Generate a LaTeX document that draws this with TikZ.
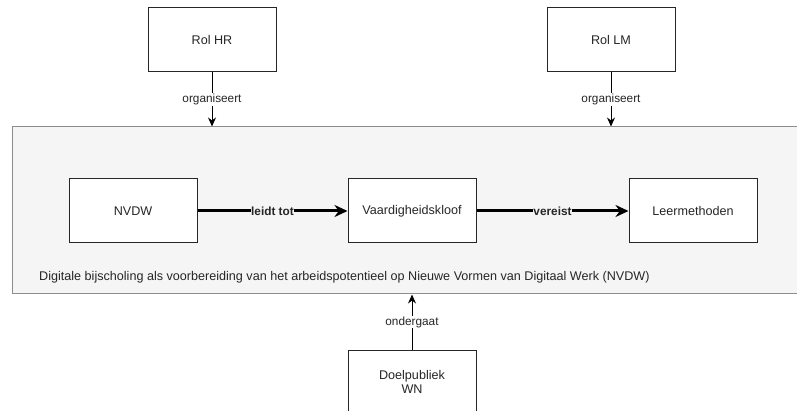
\documentclass[tikz,border=0pt]{standalone}
\usepackage{fontspec}
\setmainfont{Liberation Sans}
\usetikzlibrary{arrows.meta}
\definecolor{framegray}{HTML}{F5F5F5}
\definecolor{linegray}{HTML}{8C8C8C}
\definecolor{textgray}{HTML}{262626}
\tikzset{
  box/.style={draw=black!85, fill=white, line width=1pt, minimum width=128pt,
    minimum height=64pt, inner sep=0pt, align=center, font=\fontsize{12.6}{14.5}\selectfont, text=textgray},
  rel/.style={-{Stealth[length=9pt,width=8pt]}, line width=1pt, black},
  strongrel/.style={-{Stealth[length=13pt,width=12pt]}, line width=3pt, black},
  lbl/.style={fill=white, inner sep=1pt, font=\fontsize{11.8}{13}\selectfont, text=textgray},
  boldlbl/.style={fill=framegray, inner sep=0.5pt, font=\fontsize{11.8}{13}\selectfont\bfseries, text=textgray}
}
\begin{document}
\begin{tikzpicture}[x=1pt, y=-1pt]
            \useasboundingbox[fill=white] (0, 0) rectangle (797, 411);

            \node[draw=linegray, fill=framegray, line width=1pt, minimum width=798pt,
              minimum height=167pt, inner sep=0pt] (context) at (411, 210.5) {};
            \node[anchor=base west, inner sep=0pt, font=\fontsize{12.6}{14.5}\selectfont, text=textgray] (caption) at (39, 281)
              {Digitale bijscholing als voorbereiding van het arbeidspotentieel op Nieuwe Vormen van Digitaal Werk (NVDW)};

            \node[box] (rolhr) at (212, 40) {Rol HR};
            \node[box] (rollm) at (611, 40) {Rol LM};
            \node[box] (nvdw) at (133, 211) {NVDW};
            \node[box] (kloof) at (412, 211) {Vaardigheidskloof};
            \node[box] (leer) at (693, 211) {Leermethoden};
            \node[box] (doel) at (412, 382) {Doelpubliek\\WN};

            \draw[rel] (rolhr) -- node[lbl] {organiseert} (rolhr |- context.north);
            \draw[rel] (rollm) -- node[lbl] {organiseert} (rollm |- context.north);
            \draw[rel] (doel) -- node[lbl] {ondergaat} (doel |- context.south);

            \draw[strongrel] (nvdw) -- node[boldlbl] {leidt tot} (kloof);
            \draw[strongrel] (kloof) -- node[boldlbl] {vereist} (leer);
        \end{tikzpicture}
\end{document}
